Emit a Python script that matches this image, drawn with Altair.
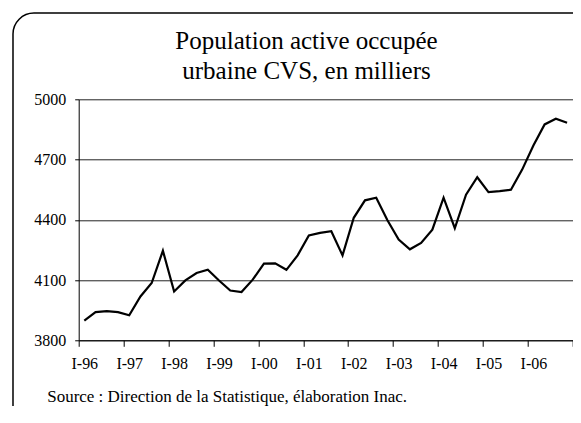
import altair as alt
import pandas as pd

# Quarterly data, I-96 .. IV-06
years = ["96", "97", "98", "99", "00", "01", "02", "03", "04", "05", "06"]
quarter_names = ["I", "II", "III", "IV"]
quarters = [f"{q}-{y}" for y in years for q in quarter_names]
values = [3898, 3940, 3945, 3940, 3925, 4018, 4085, 4246,
          4043, 4098, 4135, 4151, 4098, 4048, 4040, 4102,
          4182, 4183, 4151, 4223, 4322, 4335, 4343, 4223,
          4410, 4497, 4510, 4398, 4302, 4253, 4285, 4351,
          4510, 4358, 4525, 4612, 4538, 4543, 4550, 4650,
          4770, 4875, 4903, 4883]
tick_labels = [f"I-{y}" for y in years]
y_ticks = [3800, 4100, 4400, 4700, 5000]
title_lines = ["Population active occupée", "urbaine CVS, en milliers"]
source_text = "Source : Direction de la Statistique, élaboration Inac."

FONT = "Liberation Serif"
W, H = 494, 241

df = pd.DataFrame({"idx": list(range(len(quarters))), "quarter": quarters, "value": values})
label_js = "[" + ",".join(f"'{t}'" for t in tick_labels) + "]"

line = alt.Chart(df).transform_calculate(
    pos="datum.idx + 0.5"
).mark_line(color="black", strokeWidth=2.2).encode(
    x=alt.X("pos:Q",
            scale=alt.Scale(domain=[0, len(quarters)], nice=False, zero=False),
            axis=alt.Axis(values=list(range(0, len(quarters) + 1, 4)),
                          labelExpr=f"{label_js}[datum.value/4] || ''",
                          labelOffset=5.6, labelFlush=False, labelOverlap=False,
                          title=None, grid=False,
                          tickSize=6, labelPadding=9, domainColor="black",
                          tickColor="black", labelFont=FONT, labelFontSize=16,
                          labelColor="black")),
    y=alt.Y("value:Q",
            scale=alt.Scale(domain=[3800, 5000], nice=False, zero=False),
            axis=alt.Axis(values=y_ticks, format="d", title=None, grid=True, gridColor="#222222",
                          gridWidth=1, tickSize=4, labelPadding=9, domainColor="black",
                          tickColor="black", labelFont=FONT, labelFontSize=16,
                          labelColor="black", labelFlush=False)),
)

frame = alt.Chart(pd.DataFrame({"a": [0]})).mark_rect(
    fill=None, stroke="black", strokeWidth=1.5, cornerRadius=21, clip=False
).encode(
    x=alt.value(-65.7), x2=alt.value(515), y=alt.value(-86.3), y2=alt.value(333)
)

title_df = pd.DataFrame({"t": title_lines, "row": [0, 1]})
title = alt.Chart(title_df).transform_calculate(
    ty="-50.5 + datum.row * 30"
).mark_text(
    font=FONT, fontSize=25, align="center", baseline="alphabetic", color="black"
).encode(text="t:N", x=alt.value(227.8), y=alt.Y("ty:Q", scale=None))

source = alt.Chart(pd.DataFrame({"t": [source_text]})).mark_text(
    font=FONT, fontSize=17, align="left", baseline="alphabetic", color="black"
).encode(text="t:N", x=alt.value(-31.5), y=alt.value(302.5))

chart = alt.layer(frame, line, title, source).properties(
    width=W, height=H,
    autosize=alt.AutoSizeParams(type="none"),
    padding={"left": 70.7, "top": 91.3, "right": 0, "bottom": 66},
).configure_view(stroke=None)

chart.save("out.html", embed_options={"renderer": "svg", "actions": False})
